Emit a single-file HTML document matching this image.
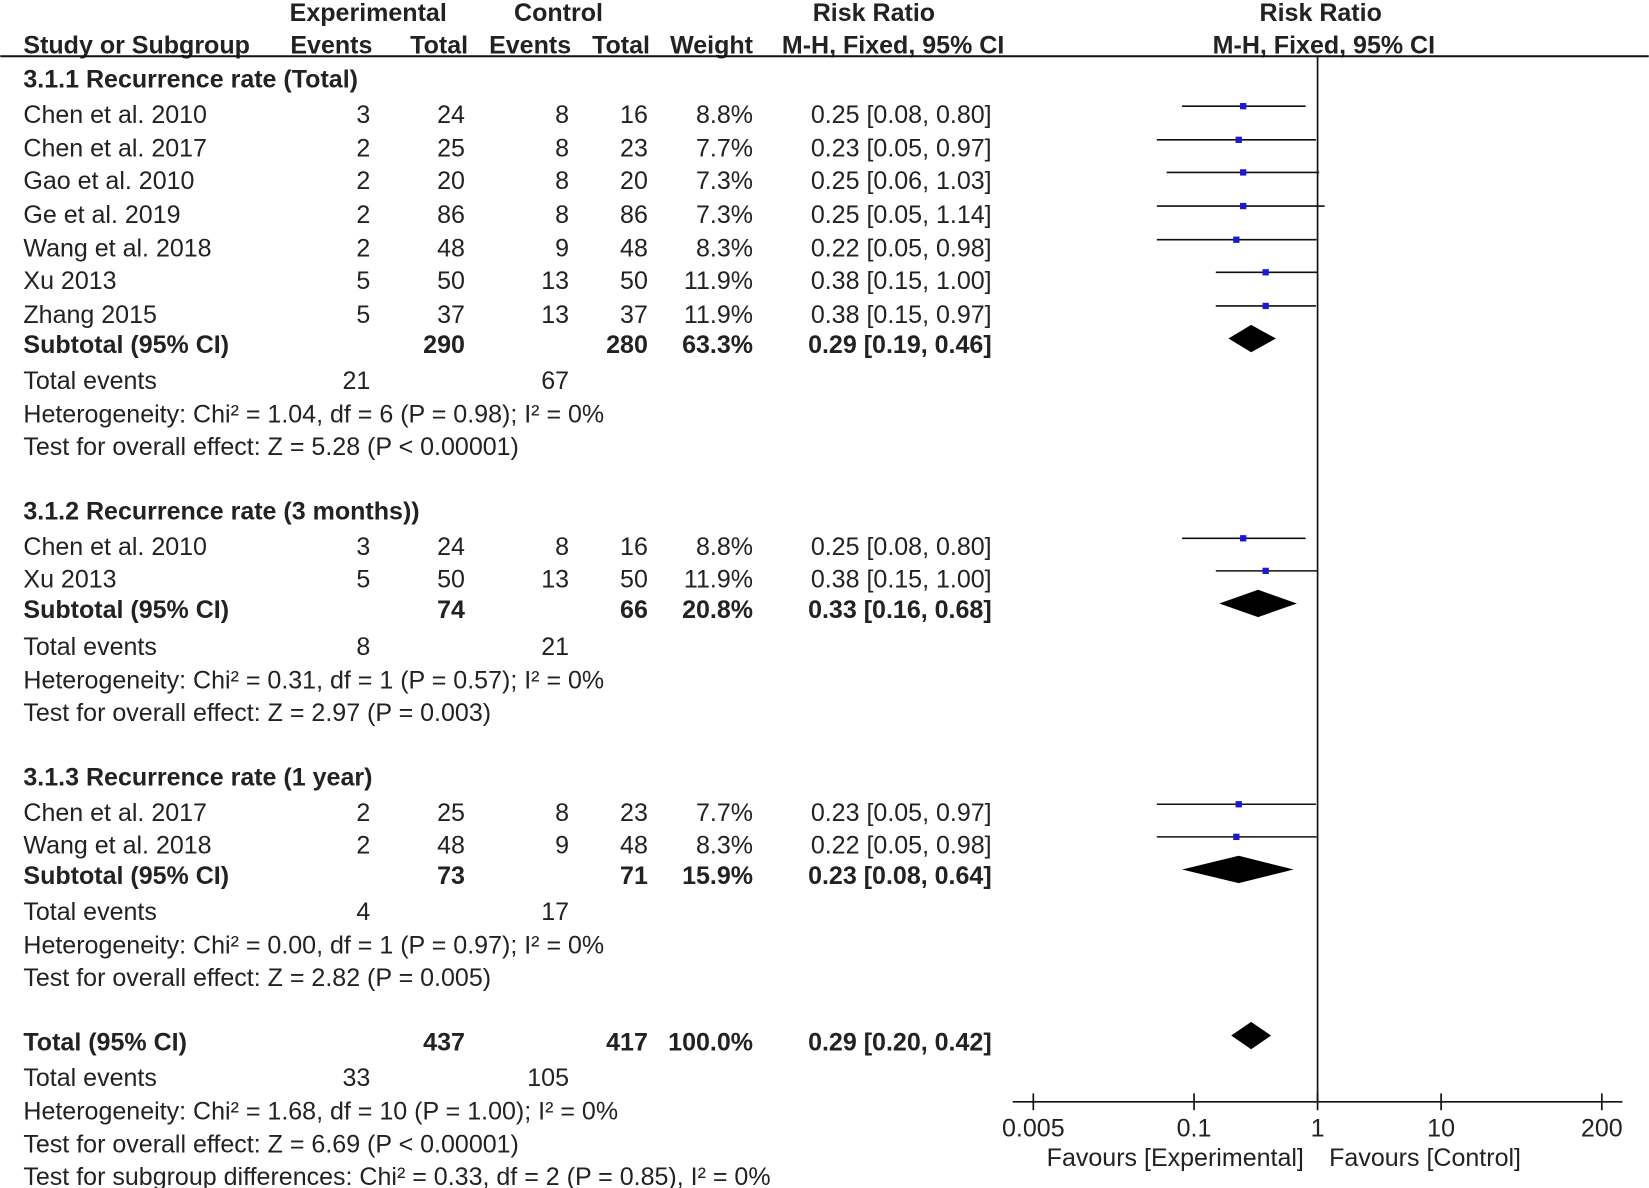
<!DOCTYPE html>
<html><head><meta charset="utf-8"><style>html,body{margin:0;padding:0;background:#fff}svg{display:block}</style></head><body>
<svg id="s" xmlns="http://www.w3.org/2000/svg" width="1649" height="1188" viewBox="0 0 1568 1130" font-family="Liberation Sans, Arial, sans-serif" font-size="23.8" fill="#222"></svg>
<script>
const s=document.getElementById('s');const NS='http://www.w3.org/2000/svg';
function el(t,a,txt){const e=document.createElementNS(NS,t);for(const k in a)e.setAttribute(k,a[k]);if(txt!==undefined)e.textContent=txt;s.appendChild(e);return e;}
function T(x,y,str,anchor,bold){return el('text',{x:x,y:y+8,'text-anchor':anchor||'start','font-weight':bold?'bold':'normal'},str);}
const X=v=>1253+117.5*Math.log10(v);
T(350,12,'Experimental','middle',1);T(531,12,'Control','middle',1);T(831,12,'Risk Ratio','middle',1);T(1256,12,'Risk Ratio','middle',1);
T(22,43,'Study or Subgroup','start',1);T(354,43,'Events','end',1);T(445,43,'Total','end',1);T(543,43,'Events','end',1);T(618,43,'Total','end',1);T(716,43,'Weight','end',1);T(955,43,'M-H, Fixed, 95% CI','end',1);T(1259,43,'M-H, Fixed, 95% CI','middle',1);
el('line',{x1:0,y1:53.5,x2:1568,y2:53.5,stroke:'#111','stroke-width':2});
el('line',{x1:1253,y1:54,x2:1253,y2:1048,stroke:'#111','stroke-width':1.6});
function study(y,n,a,b,c,d,w,e,lo,hi){T(22,y,n);T(352,y,a,'end');T(442,y,b,'end');T(541,y,c,'end');T(616,y,d,'end');T(716,y,w,'end');T(943,y,e.toFixed(2)+' ['+lo.toFixed(2)+', '+hi.toFixed(2)+']','end');
el('line',{x1:X(lo),y1:y-8,x2:X(hi),y2:y-8,stroke:'#111','stroke-width':1.5});el('rect',{x:X(e)-3,y:y-11,width:6,height:6,fill:'#1a1ad0'});}
function sub(y,b,d,w,e,lo,hi,label){T(22,y,label||'Subtotal (95% CI)','start',1);T(442,y,b,'end',1);T(616,y,d,'end',1);T(716,y,w,'end',1);T(943,y,e.toFixed(2)+' ['+lo.toFixed(2)+', '+hi.toFixed(2)+']','end',1);
el('polygon',{points:`${X(lo)},${y-6} ${X(e)},${y-19} ${X(hi)},${y-6} ${X(e)},${y+7}`,fill:'#000'});}
T(22,75,'3.1.1 Recurrence rate (Total)','start',1);
const S=[['Chen et al. 2010','3','24','8','16','8.8%',.25,.08,.80],['Chen et al. 2017','2','25','8','23','7.7%',.23,.05,.97],['Gao et al. 2010','2','20','8','20','7.3%',.25,.06,1.03],['Ge et al. 2019','2','86','8','86','7.3%',.25,.05,1.14],['Wang et al. 2018','2','48','9','48','8.3%',.22,.05,.98],['Xu 2013','5','50','13','50','11.9%',.38,.15,1.00],['Zhang 2015','5','37','13','37','11.9%',.38,.15,.97]];
[109,141,172,204,236,267,299].forEach((y,i)=>study(y,...S[i]));
sub(328,'290','280','63.3%',.29,.19,.46);
T(22,362,'Total events');T(352,362,'21','end');T(541,362,'67','end');
T(22,394,'Heterogeneity: Chi² = 1.04, df = 6 (P = 0.98); I² = 0%');T(22,425,'Test for overall effect: Z = 5.28 (P < 0.00001)');
T(22,486,'3.1.2 Recurrence rate (3 months))','start',1);
study(520,...S[0]);study(551,...S[5]);sub(580,'74','66','20.8%',.33,.16,.68);
T(22,615,'Total events');T(352,615,'8','end');T(541,615,'21','end');
T(22,647,'Heterogeneity: Chi² = 0.31, df = 1 (P = 0.57); I² = 0%');T(22,678,'Test for overall effect: Z = 2.97 (P = 0.003)');
T(22,739,'3.1.3 Recurrence rate (1 year)','start',1);
study(773,...S[1]);study(804,...S[4]);sub(833,'73','71','15.9%',.23,.08,.64);
T(22,867,'Total events');T(352,867,'4','end');T(541,867,'17','end');
T(22,899,'Heterogeneity: Chi² = 0.00, df = 1 (P = 0.97); I² = 0%');T(22,930,'Test for overall effect: Z = 2.82 (P = 0.005)');
sub(991,'437','417','100.0%',.29,.20,.42,'Total (95% CI)');
T(22,1025,'Total events');T(352,1025,'33','end');T(541,1025,'105','end');
T(22,1057,'Heterogeneity: Chi² = 1.68, df = 10 (P = 1.00); I² = 0%');T(22,1088,'Test for overall effect: Z = 6.69 (P < 0.00001)');
T(22,1119,'Test for subgroup differences: Chi² = 0.33, df = 2 (P = 0.85), I² = 0%');
el('line',{x1:963,y1:1048,x2:1543,y2:1048,stroke:'#111','stroke-width':1.6});
[[0.005,'0.005'],[0.1,'0.1'],[1,'1'],[10,'10'],[200,'200']].forEach(([v,l])=>{el('line',{x1:X(v),y1:1040,x2:X(v),y2:1056,stroke:'#111','stroke-width':1.6});T(X(v),1073,l,'middle');});
T(1240,1101,'Favours [Experimental]','end');T(1264,1101,'Favours [Control]','start');
</script>
</body></html>
